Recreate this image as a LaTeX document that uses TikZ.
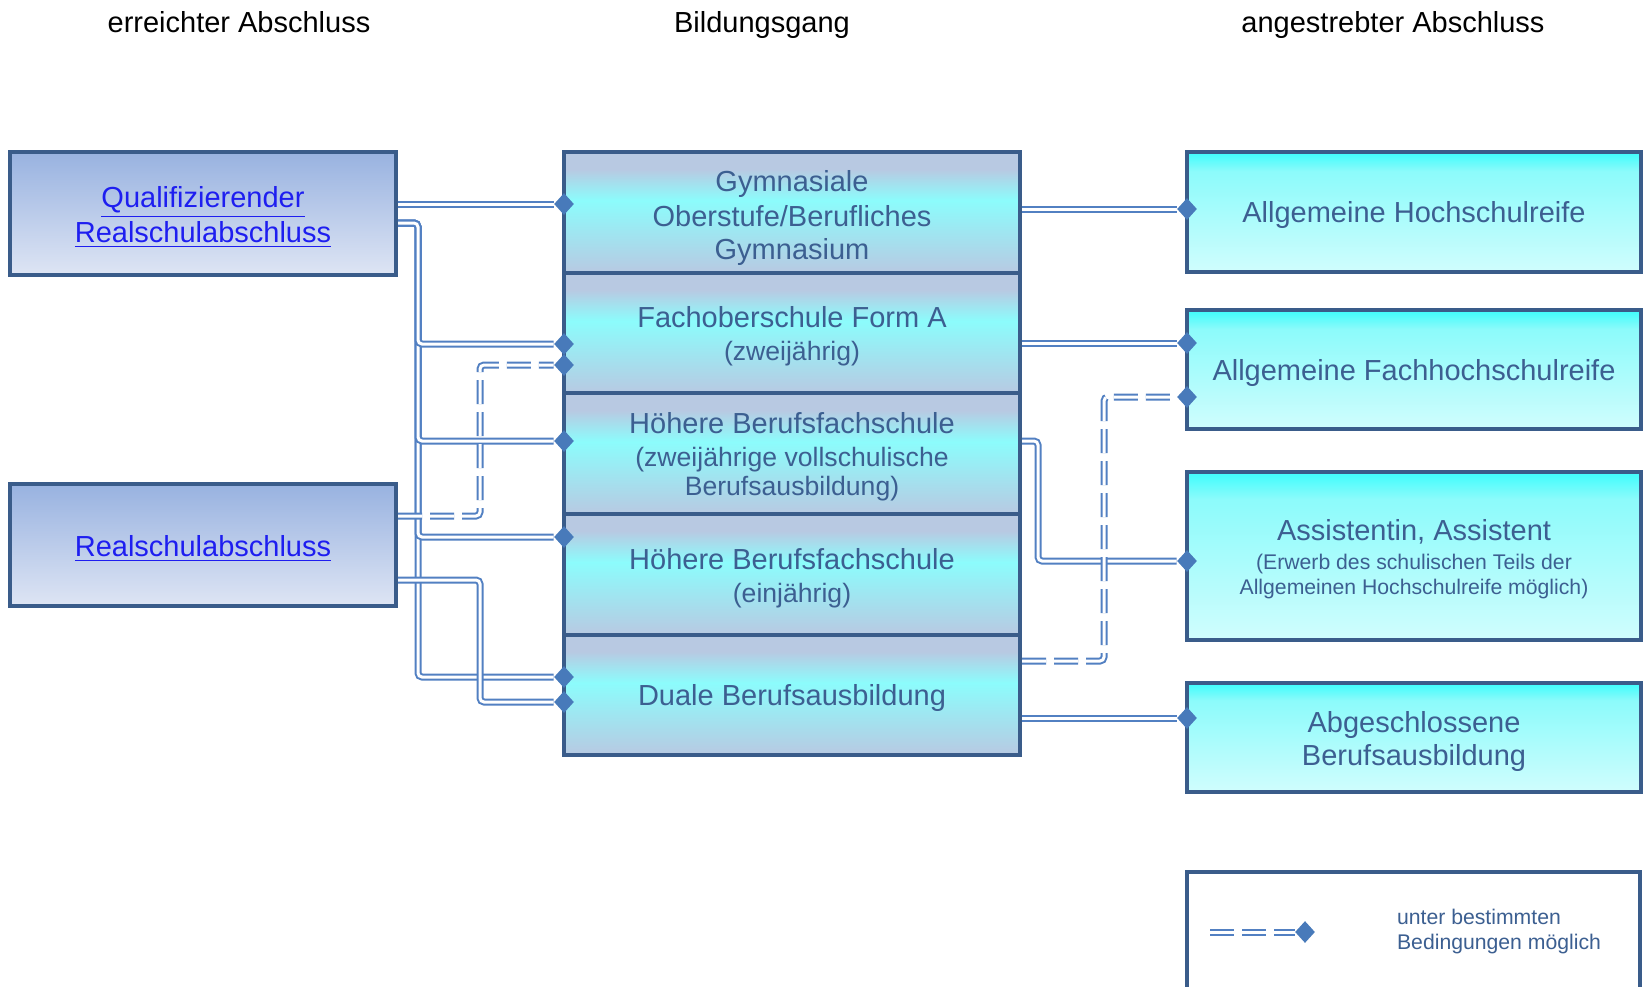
\documentclass[tikz,border=0pt]{standalone}
\usepackage{fontspec}
\setmainfont{Liberation Sans}
\usepackage{tikz}
\usetikzlibrary{shapes.geometric}

\definecolor{framec}{RGB}{58,92,138}
\definecolor{linec}{RGB}{82,128,194}
\definecolor{diac}{RGB}{72,122,186}
\definecolor{textc}{RGB}{60,95,145}
\definecolor{linkc}{RGB}{30,30,240}
\definecolor{lefttop}{RGB}{152,178,224}
\definecolor{leftbot}{RGB}{222,229,244}
\definecolor{midsteel}{RGB}{184,201,226}
\definecolor{midcyan}{RGB}{140,252,252}
\definecolor{righttop}{RGB}{70,252,252}
\definecolor{rightmid}{RGB}{140,251,251}
\definecolor{rightbot}{RGB}{208,253,253}

\pgfdeclareverticalshading{midshade}{100bp}{color(0bp)=(midsteel); color(25bp)=(midsteel); color(55bp)=(midcyan); color(68bp)=(midsteel); color(100bp)=(midsteel)}
\pgfdeclareverticalshading{rightshade}{100bp}{color(0bp)=(rightbot); color(25bp)=(rightbot); color(67bp)=(rightmid); color(74bp)=(righttop); color(100bp)=(righttop)}

\newcommand{\bigtxt}{\fontsize{14.5}{16.5}\selectfont}
\newcommand{\subtxt}{\fontsize{13.3}{15}\selectfont}
\newcommand{\tinytxt}{\fontsize{10.6}{12.5}\selectfont}
\newcommand{\boxgap}{\rule{0pt}{14pt}}

\begin{document}
\begin{tikzpicture}[x=0.5pt, y=-0.5pt,
  lbox/.style={draw=framec, line width=2pt, top color=lefttop, bottom color=leftbot, minimum width=193pt, minimum height=61.5pt, align=center, text=linkc, font=\bigtxt},
  mbox/.style={draw=framec, line width=2pt, shade, shading=midshade, minimum width=228pt, minimum height=60.3pt, align=center, text=textc, font=\bigtxt},
  rbox/.style={draw=framec, line width=2pt, shade, shading=rightshade, minimum width=227pt, align=center, text=textc, font=\bigtxt},
  pin/.style={diamond, fill=diac, inner sep=0pt, minimum width=10pt, minimum height=11pt},
  conn/.style={draw=linec, line width=1pt, double=white, double distance=1.5pt, rounded corners=2pt},
  maybe/.style={conn, dash pattern=on 12pt off 4pt},
  head/.style={font=\bigtxt, anchor=base}]

\useasboundingbox (0,0) rectangle (1643,986);
\clip (0,0) rectangle (1643,986);

% Headings
\node[head] (hleft) at (239,32) {erreichter Abschluss};
\node[head] (hmid) at (762,32) {Bildungsgang};
\node[head] (hright) at (1393,32) {angestrebter Abschluss};

% Left column
\node[lbox] (qual) at (203,213.5) {\boxgap\underline{Qualifizierender}\\[1pt]\underline{Realschulabschluss}};
\node[lbox, minimum height=61pt] (real) at (203,545) {\boxgap\underline{Realschulabschluss}};

% Middle column
\node[mbox] (gym) at (792,212.5) {\rule{0pt}{16pt}Gymnasiale\\[1pt]Oberstufe/Berufliches\\Gymnasium};
\node[mbox] (fos) at (792,333.1) {\boxgap Fachoberschule Form A\\{\subtxt (zweijährig)}};
\node[mbox] (hbf2) at (792,453.7) {\boxgap Höhere Berufsfachschule\\{\subtxt (zweijährige vollschulische}\\[-2pt]{\subtxt Berufsausbildung)}};
\node[mbox] (hbf1) at (792,574.3) {\boxgap Höhere Berufsfachschule\\{\subtxt (einjährig)}};
\node[mbox] (dual) at (792,694.9) {\boxgap Duale Berufsausbildung};

% Right column
\node[rbox, minimum height=60pt] (ahr) at (1414,212) {\boxgap Allgemeine Hochschulreife};
\node[rbox, minimum height=59.5pt] (fhr) at (1414,369.5) {\boxgap Allgemeine Fachhochschulreife};
\node[rbox, minimum height=84pt] (assi) at (1414,556) {\boxgap Assistentin, Assistent\\[-2pt]{\tinytxt (Erwerb des schulischen Teils der}\\[-4pt]{\tinytxt Allgemeinen Hochschulreife möglich)}};
\node[rbox, minimum height=54.5pt] (abg) at (1414,737.5) {\boxgap Abgeschlossene\\Berufsausbildung};

% Legend
\draw[draw=framec, line width=2pt, fill=white] (1187,872) rectangle (1640,1010);
\node[pin] (pL) at (1305,932) {};
\coordinate (lstart) at (1210,932);
\draw[maybe] (lstart) -- (pL);
\node[text=textc, font=\tinytxt, align=left, anchor=west] (ltext) at (1390,932) {unter bestimmten\\Bedingungen möglich};

% Pins
\node[pin] (pG) at (564,204) {};
\node[pin] (pF1) at (564,344) {};
\node[pin] (pF2) at (564,365) {};
\node[pin] (pH2) at (564,441) {};
\node[pin] (pH1) at (564,537) {};
\node[pin] (pD1) at (564,677) {};
\node[pin] (pD2) at (564,702) {};
\node[pin] (pA) at (1187,209) {};
\node[pin] (pFH1) at (1187,343) {};
\node[pin] (pFH2) at (1187,397) {};
\node[pin] (pAs) at (1187,561) {};
\node[pin] (pAb) at (1187,718) {};

% Connectors left
\coordinate (trunk) at (418,223);
\draw[conn] (qual.east |- trunk) -- (trunk) |- (pD1);
\draw[conn] (qual.east |- trunk) -- (trunk) |- (pH1);
\draw[conn] (qual.east |- trunk) -- (trunk) |- (pH2);
\draw[conn] (qual.east |- trunk) -- (trunk) |- (pF1);
\draw[conn] (qual.east |- pG) -- (pG);
\coordinate (jogA) at (480,516);
\coordinate (jogB) at (480,580);
\draw[maybe] (real.east |- jogA) -- (jogA) |- (pF2);
\draw[conn] (real.east |- jogB) -- (jogB) |- (pD2);

% Connectors right
\draw[conn] (gym.east |- pA) -- (pA);
\draw[conn] (fos.east |- pFH1) -- (pFH1);
\coordinate (jogC) at (1038,441);
\draw[conn] (hbf2.east |- jogC) -- (jogC) |- (pAs);
\coordinate (jogD) at (1104,661);
\draw[maybe] (dual.east |- jogD) -- (jogD) |- (pFH2);
\draw[conn] (dual.east |- pAb) -- (pAb);

\end{tikzpicture}
\end{document}
